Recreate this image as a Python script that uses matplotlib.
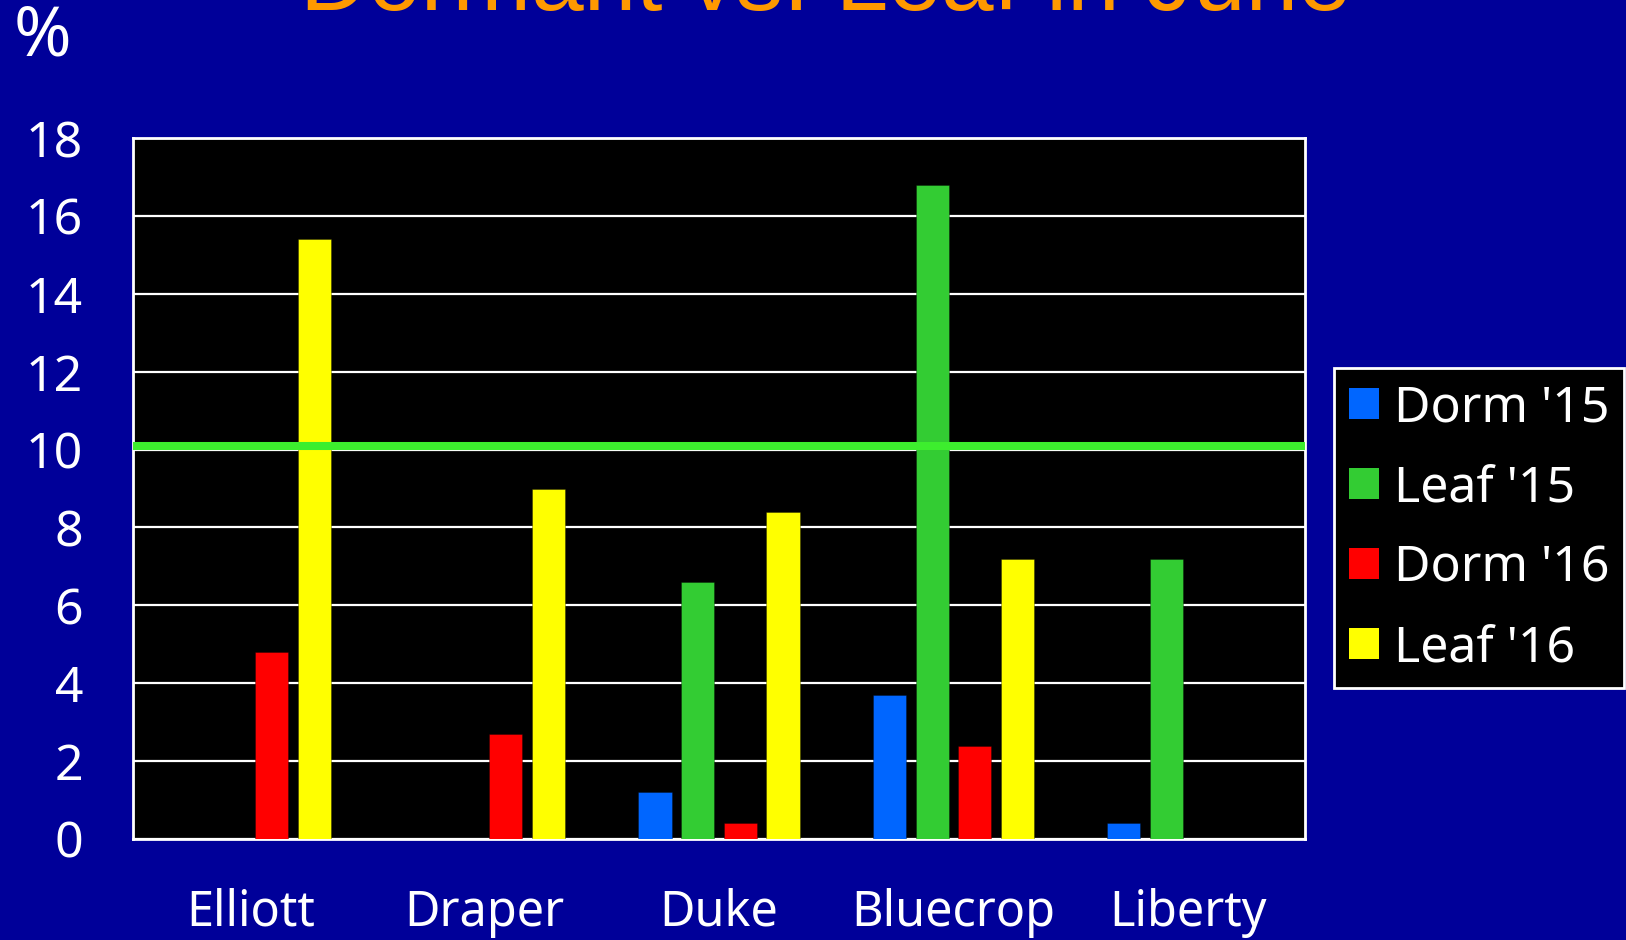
import matplotlib
matplotlib.use("Agg")
import matplotlib.pyplot as plt
from matplotlib.patches import Patch
import numpy as np

categories = ["Elliott", "Draper", "Duke", "Bluecrop", "Liberty"]
series_names = ["Dorm '15", "Leaf '15", "Dorm '16", "Leaf '16"]
dorm15 = [0.0, 0.0, 1.2, 3.7, 0.4]
leaf15 = [0.0, 0.0, 6.6, 16.8, 7.2]
dorm16 = [4.8, 2.7, 0.4, 2.4, 0.0]
leaf16 = [15.4, 9.0, 8.4, 7.2, 0.0]
threshold = 10.1
yticks = [0, 2, 4, 6, 8, 10, 12, 14, 16, 18]
title = "Dormant vs. Leaf in June"

colors = ["#0066FF", "#33CC33", "#FF0000", "#FFFF00"]
bg = "#000099"
font = "Noto Sans"

fig = plt.figure(figsize=(16.26, 9.40), dpi=100, facecolor=bg)
ax = fig.add_axes([133/1626, 1 - 839/940, (1305-133)/1626, (839-138)/940])
ax.set_facecolor("black")

x = np.arange(len(categories))
slot = 0.182
width = 0.141
for j, (vals, c) in enumerate(zip([dorm15, leaf15, dorm16, leaf16], colors)):
    ax.bar(x + (j - 1.5) * slot, vals, width=width, color=c,
           edgecolor=(0, 0, 0, 0.35), linewidth=0.6, zorder=3)

ax.axhline(threshold, xmin=0.003, xmax=1, color="#3DEE2E", linewidth=5.8, zorder=4)

ax.set_xlim(-0.5, len(categories) - 0.5)
ax.set_ylim(0, 18)
ax.set_yticks(yticks)
ax.set_yticklabels([str(t) for t in yticks], fontsize=36, color="white", family=font)
ax.set_xticks(x)
ax.set_xticklabels(categories, fontsize=35, color="white", family=font)
ax.tick_params(axis="both", length=0)
ax.tick_params(axis="y", pad=36)
ax.tick_params(axis="x", pad=35)
ax.yaxis.grid(True, color="white", linewidth=1.6, zorder=1)
ax.set_axisbelow(True)
for s in ax.spines.values():
    s.set_color("white")
    s.set_linewidth(2)

handles = [Patch(facecolor=c, edgecolor="none") for c in colors]
leg = fig.legend(handles, series_names, loc="center",
                 bbox_to_anchor=(1479/1626, 1 - 528/940),
                 prop={"family": font, "size": 36},
                 facecolor="black", edgecolor="white", framealpha=1,
                 fancybox=False, handlelength=0.6, handleheight=0.6,
                 handletextpad=0.3, labelspacing=0.6, borderpad=0.3,
                 borderaxespad=0)
for t in leg.get_texts():
    t.set_color("white")
leg.get_frame().set_linewidth(2)

fig.text(825/1626, 1 - 10/940, title, ha="center", va="baseline",
         fontsize=68, color="#FF9900", family="Liberation Sans")
fig.text(14/1626, 1 - 55/940, "%", ha="left", va="baseline",
         fontsize=50, color="white", family=font)

fig.savefig("out.png", dpi=100, facecolor=bg)
